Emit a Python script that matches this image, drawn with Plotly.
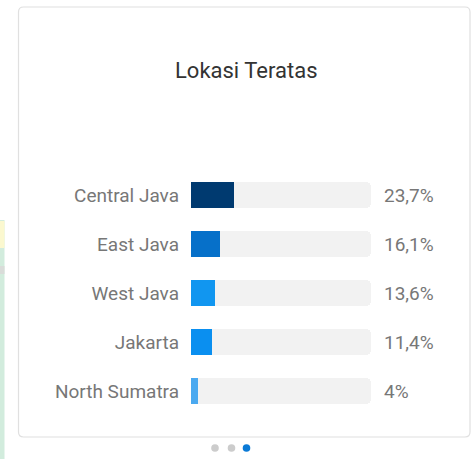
import plotly.graph_objects as go

# ---- data ----
locations = ["Central Java", "East Java", "West Java", "Jakarta", "North Sumatra"]
percents = [23.7, 16.1, 13.6, 11.4, 4.0]
value_labels = ["23,7%", "16,1%", "13,6%", "11,4%", "4%"]
bar_colors = ["#003a70", "#0670c9", "#1196f0", "#0a8ff0", "#4aa9f0"]
track_max = 100
title_text = "Lokasi Teratas"

W, H = 471, 459

def px(x):
    return x / W

def py(y):
    return 1 - y / H

fig = go.Figure()

n = len(locations)
BW = 0.53
# track (rounded both ends)
fig.add_trace(go.Bar(y=locations, x=[track_max] * n, orientation="h",
                     marker=dict(color="#f2f2f2", line=dict(width=0), cornerradius=5),
                     width=BW, hoverinfo="skip", showlegend=False))
# filled bar with rounded corners
fig.add_trace(go.Bar(y=locations, x=percents, orientation="h",
                     marker=dict(color=bar_colors, line=dict(width=0), cornerradius=5),
                     width=BW, showlegend=False))
# square right end of the filled bar
fig.add_trace(go.Bar(y=locations, x=[p / 2 for p in percents], base=[p / 2 for p in percents],
                     orientation="h",
                     marker=dict(color=bar_colors, line=dict(width=0), cornerradius=0),
                     width=BW, hoverinfo="skip", showlegend=False))

for loc, lab in zip(locations, value_labels):
    fig.add_annotation(x=track_max, y=loc, xref="x", yref="y", text=lab,
                       showarrow=False, xanchor="left", xshift=11,
                       font=dict(family="Roboto", size=19, color="#777777"))

fig.add_annotation(x=px(245.5), y=py(70), xref="paper", yref="paper", text=title_text,
                   showarrow=False, xanchor="center", yanchor="middle",
                   font=dict(family="Roboto", size=22, color="#333333"))

# card with rounded corners
x0, x1, y0, y1, r = 18.5, 470, 7, 437, 5
path = (f"M {px(x0+r)},{py(y0)} L {px(x1-r)},{py(y0)} Q {px(x1)},{py(y0)} {px(x1)},{py(y0+r)} "
        f"L {px(x1)},{py(y1-r)} Q {px(x1)},{py(y1)} {px(x1-r)},{py(y1)} "
        f"L {px(x0+r)},{py(y1)} Q {px(x0)},{py(y1)} {px(x0)},{py(y1-r)} "
        f"L {px(x0)},{py(y0+r)} Q {px(x0)},{py(y0)} {px(x0+r)},{py(y0)} Z")
shapes = [
    dict(type="rect", xref="paper", yref="paper", x0=0, x1=px(4.5), y0=py(459), y1=py(220),
         fillcolor="#d2ecdd", line=dict(width=0), layer="below"),
    dict(type="rect", xref="paper", yref="paper", x0=0, x1=px(4.5), y0=py(248), y1=py(221),
         fillcolor="#fbf8cf", line=dict(width=0), layer="below"),
    dict(type="rect", xref="paper", yref="paper", x0=0, x1=px(4.5), y0=py(274), y1=py(266),
         fillcolor="#d9dcd9", line=dict(width=0), layer="below"),
    dict(type="path", xref="paper", yref="paper", path=path, fillcolor="white",
         line=dict(color="#e0e0e0", width=1.2), layer="below"),
]
for cx, col in [(215, "#cccccc"), (231.5, "#cccccc"), (246.5, "#0a7ad6")]:
    shapes.append(dict(type="circle", xref="paper", yref="paper",
                       x0=px(cx - 3.8), x1=px(cx + 3.8), y0=py(448 + 3.8), y1=py(448 - 3.8),
                       fillcolor=col, line=dict(width=0)))

# y mapping: category index 0 -> pixel 195, step 49 px
step, c0 = 49, 195
yr = [(H - c0) / step, -c0 / step]

fig.update_layout(
    width=W, height=H, margin=dict(l=0, r=0, t=0, b=0),
    paper_bgcolor="white", plot_bgcolor="rgba(0,0,0,0)",
    barmode="overlay",
    shapes=shapes,
    xaxis=dict(domain=[px(191), px(371)], range=[0, track_max], visible=False, fixedrange=True),
    yaxis=dict(domain=[0, 1], range=yr, showgrid=False, zeroline=False, showline=False,
               ticks="", ticklabelstandoff=11,
               tickfont=dict(family="Roboto", size=19, color="#777777"), fixedrange=True),
    bargap=0,
)

fig.write_html("out.html", config={"displayModeBar": False})
